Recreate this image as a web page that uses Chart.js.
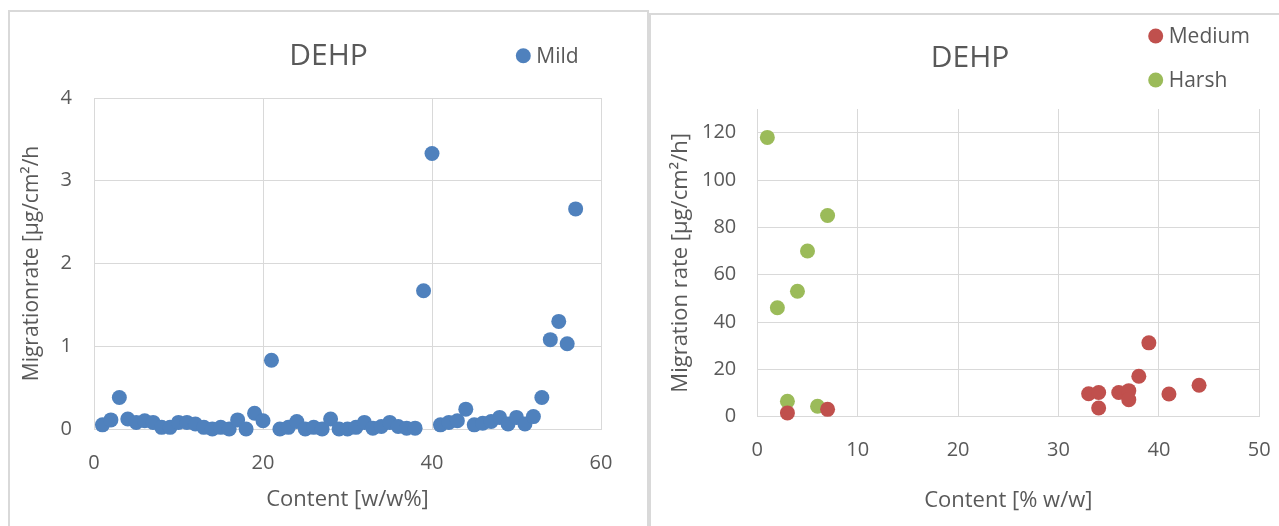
<!DOCTYPE html>
<html lang="en">
<head>
<meta charset="UTF-8">
<title>DEHP migration rate</title>
<script src="https://cdn.jsdelivr.net/npm/chart.js@4.4.1/dist/chart.umd.min.js"></script>
<style>
  * { box-sizing: border-box; margin: 0; padding: 0; }
  html, body { width: 1279px; height: 526px; overflow: hidden; background: #fff; }
  .panel { position: absolute; border: 2px solid #d9d9d9; background: #fff; }
  #p1 { left: 8px; top: 10px; width: 641px; height: 540px; }
  #p2 { left: 649px; top: 13px; width: 660px; height: 540px; }
  canvas { position: absolute; }
  #c1 { left: 10px; top: 14px; }
  #c2 { left: 651px; top: 15px; }
</style>
</head>
<body>
<div class="panel" id="p1"></div>
<div class="panel" id="p2"></div>
<canvas id="c1" width="636" height="512"></canvas>
<canvas id="c2" width="648" height="511"></canvas>

<script>
  // Mild (left chart)
  const mildContent = [1,2,3,4,5,6,7,8,9,10,11,12,13,14,15,16,17,18,19,20,21,22,23,24,25,26,27,28,29,30,
                       31,32,33,34,35,36,37,38,39,40,41,42,43,44,45,46,47,48,49,50,51,52,53,54,55,56,57];
  const mildRate = [0.05,0.11,0.38,0.12,0.08,0.10,0.08,0.02,0.02,0.08,0.08,0.06,0.02,0.00,0.02,0.00,0.11,0.00,0.19,0.10,
                    0.83,0.00,0.02,0.09,0.00,0.02,0.00,0.12,0.00,0.00,0.02,0.08,0.01,0.03,0.08,0.03,0.01,0.01,1.67,3.33,
                    0.05,0.08,0.10,0.24,0.05,0.07,0.09,0.14,0.06,0.14,0.06,0.15,0.38,1.08,1.30,1.03,2.66];

  // Medium / Harsh (right chart)
  const mediumContent = [3, 7, 33, 34, 34, 36, 37, 37, 38, 39, 41, 44];
  const mediumRate    = [1.6, 3.1, 9.7, 10.2, 3.7, 10.2, 11.0, 7.2, 17.1, 31.2, 9.6, 13.3];
  const harshContent  = [1, 2, 3, 4, 5, 6, 7];
  const harshRate     = [118, 46, 6.5, 53, 70, 4.4, 85];

  const leftXTicks = [0, 60, 20];    // min, max, step
  const leftYTicks = [0, 4, 1];
  const rightXTicks = [0, 50, 10];
  const rightYTicks = [0, 130, 20];

  const pts = (xs, ys) => xs.map((x, i) => ({ x, y: ys[i] }));

  const FONT = '"Open Sans", sans-serif';
  const TEXT = '#595959';
  const GRID = '#d9d9d9';

  // titre + légende dessinés à la main (titre et légende sur la même ligne)
  const headerPlugin = {
    id: 'header',
    afterDraw(chart, args, o) {
      const ctx = chart.ctx;
      ctx.save();
      ctx.fillStyle = TEXT;
      ctx.font = '30px ' + FONT;
      ctx.textAlign = 'center';
      ctx.textBaseline = 'middle';
      ctx.fillText(o.text, o.titleX, o.titleY);
      ctx.font = '21px ' + FONT;
      ctx.textAlign = 'left';
      chart.data.datasets.forEach((ds, i) => {
        const y = o.legendY + i * o.legendGap;
        ctx.beginPath();
        ctx.arc(o.legendX, y, 7.5, 0, Math.PI * 2);
        ctx.fillStyle = ds.backgroundColor;
        ctx.fill();
        ctx.fillStyle = TEXT;
        ctx.fillText(ds.label, o.legendX + 13, y + 1);
      });
      ctx.restore();
    }
  };

  function makeOptions(cfg) {
    return {
      responsive: false,
      animation: false,
      layout: { padding: cfg.padding },
      plugins: {
        legend: { display: false },
        tooltip: { enabled: false },
        header: cfg.header
      },
      scales: {
        x: {
          type: 'linear',
          min: cfg.xTicks[0], max: cfg.xTicks[1],
          afterFit: s => { s.height = cfg.xHeight; },
          ticks: { stepSize: cfg.xTicks[2], color: TEXT, font: { family: FONT, size: 20 }, padding: cfg.xTickPad, maxRotation: 0 },
          grid: { color: GRID, lineWidth: 1, drawTicks: false },
          border: { color: GRID, width: 1 },
          title: { display: true, text: cfg.xTitle, color: TEXT, font: { family: FONT, size: 22 }, padding: { top: 0, bottom: cfg.xTitlePad } }
        },
        y: {
          type: 'linear',
          min: cfg.yTicks[0], max: cfg.yTicks[1],
          afterFit: s => { s.width = cfg.yWidth; },
          afterBuildTicks: s => { s.ticks = s.ticks.filter(t => (t.value - cfg.yTicks[0]) % cfg.yTicks[2] === 0); },
          ticks: { stepSize: cfg.yTicks[2], color: TEXT, font: { family: FONT, size: 20 }, padding: cfg.yTickPad },
          grid: { color: GRID, lineWidth: 1, drawTicks: false },
          border: { color: GRID, width: 1 },
          title: { display: true, text: cfg.yTitle, color: TEXT, font: { family: FONT, size: cfg.yTitleSize }, padding: { top: cfg.yTitlePad, bottom: 0 } }
        }
      }
    };
  }

  const dot = { pointRadius: 7.5, pointBorderWidth: 0, pointHoverRadius: 7.5, showLine: false, clip: false };

  new Chart(document.getElementById('c1'), {
    type: 'scatter',
    data: {
      datasets: [
        { label: 'Mild', data: pts(mildContent, mildRate), backgroundColor: '#4f81bd', borderColor: '#4f81bd', ...dot }
      ]
    },
    options: makeOptions({
      padding: { left: 0, top: 84, right: 45, bottom: 0 },
      xTicks: leftXTicks, yTicks: leftYTicks,
      xHeight: 97, yWidth: 84,
      xTickPad: 22, yTickPad: 22,
      xTitle: 'Content [w/w%]', yTitle: 'Migrationrate [µg/cm²/h',
      xTitlePad: 13, yTitlePad: 9, yTitleSize: 21,
      header: { text: 'DEHP', titleX: 318.5, titleY: 42.5, legendX: 513.3, legendY: 41.7, legendGap: 44 }
    }),
    plugins: [headerPlugin]
  });

  new Chart(document.getElementById('c2'), {
    type: 'scatter',
    data: {
      datasets: [
        { label: 'Medium', data: pts(mediumContent, mediumRate), backgroundColor: '#c0504d', borderColor: '#c0504d', ...dot },
        { label: 'Harsh', data: pts(harshContent, harshRate), backgroundColor: '#9bbb59', borderColor: '#9bbb59', ...dot }
      ]
    },
    options: makeOptions({
      padding: { left: 0, top: 94, right: 39.7, bottom: 0 },
      xTicks: rightXTicks, yTicks: rightYTicks,
      xHeight: 109.3, yWidth: 106.3,
      xTickPad: 22, yTickPad: 21,
      xTitle: 'Content [% w/w]', yTitle: 'Migration rate [µg/cm²/h]',
      xTitlePad: 12, yTitlePad: 16.5, yTitleSize: 22,
      header: { text: 'DEHP', titleX: 319, titleY: 43, legendX: 504.7, legendY: 21, legendGap: 44 }
    }),
    plugins: [headerPlugin]
  });
</script>
</body>
</html>
